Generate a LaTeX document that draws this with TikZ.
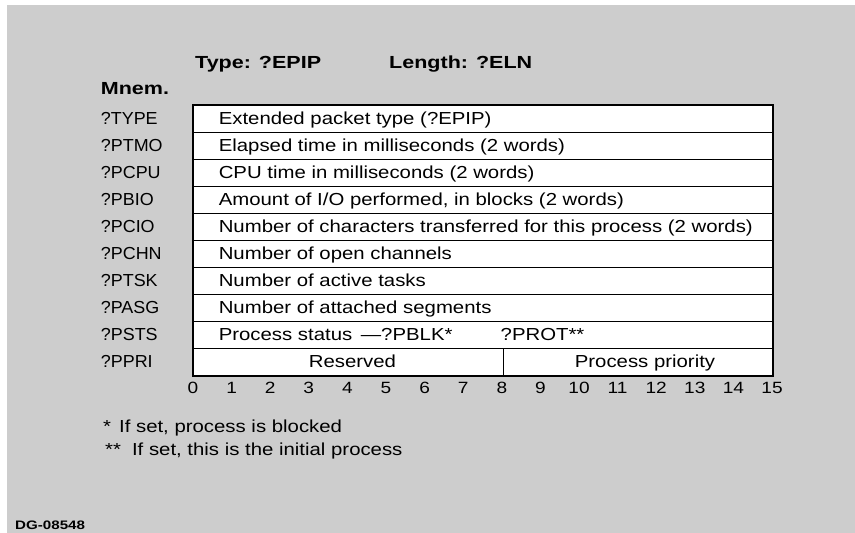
\documentclass[tikz,border=0pt]{standalone}
\usepackage{fontspec}
\setmainfont{Liberation Sans}
% widened Helvetica-like faces for the packet layout
\newfontfamily\cellfont[FakeStretch=1.17]{Liberation Sans}
\newfontfamily\mnemfont[FakeStretch=1.03]{Liberation Sans}
\newfontfamily\headfont[FakeStretch=1.23]{Liberation Sans}
\definecolor{paper}{RGB}{205,205,205}

\begin{document}
\begin{tikzpicture}[x=1pt,y=-1pt,
  cell/.style={draw=black, fill=white, line width=1.3pt, inner sep=0pt,
               minimum height=27pt, anchor=north west},
  wordcell/.style={cell, minimum width=579pt},
  celltext/.style={anchor=base west, inner sep=0pt,
                   font=\cellfont\fontsize{17.4}{20}\selectfont},
  centertext/.style={celltext, anchor=base},
  mnem/.style={anchor=base west, inner sep=0pt,
               font=\mnemfont\fontsize{17.4}{20}\selectfont},
  heading/.style={anchor=base west, inner sep=0pt,
                  font=\headfont\bfseries\fontsize{17.5}{20}\selectfont},
  bitnum/.style={anchor=base, inner sep=0pt,
                 font=\cellfont\fontsize{16.3}{18}\selectfont},
  note/.style={anchor=base west, inner sep=0pt,
               font=\cellfont\fontsize{17.4}{20}\selectfont},
  figid/.style={anchor=base west, inner sep=0pt,
                font=\headfont\bfseries\fontsize{12.3}{14}\selectfont}
]
\useasboundingbox (0,0) rectangle (855,533);
\fill[white] (0,0) rectangle (855,533);
\fill[paper] (7,5) rectangle (855,533);

% headings
\node[heading] (type) at (195,68) {Type: ?EPIP};
\node[heading] (len)  at (389,68) {Length: ?ELN};
\node[heading] (mnemhead) at (100.7,94.7) {Mnem.};

% one-word rows
\node[wordcell] (w0) at (193,104.5) {};
\node[wordcell] (w1) at (193,131.5) {};
\node[wordcell] (w2) at (193,158.5) {};
\node[wordcell] (w3) at (193,185.5) {};
\node[wordcell] (w4) at (193,212.5) {};
\node[wordcell] (w5) at (193,239.5) {};
\node[wordcell] (w6) at (193,266.5) {};
\node[wordcell] (w7) at (193,293.5) {};
\node[wordcell] (w8) at (193,320.5) {};
% last word split at bit 8
\node[cell, minimum width=309.7pt] (wres) at (193,347.5) {};
\node[cell, minimum width=269.3pt] (wpri) at (502.7,347.5) {};
% outer frame
\draw[line width=2pt] (w0.north west) rectangle (wpri.south east);

% field descriptions
\node[celltext] (d0) at (218.6,124.2) {Extended packet type (?EPIP)};
\node[celltext] (d1) at (218.6,151.2) {Elapsed time in milliseconds (2 words)};
\node[celltext] (d2) at (218.6,178.2) {CPU time in milliseconds (2 words)};
\node[celltext] (d3) at (218.6,205.2) {Amount of I/O performed, in blocks (2 words)};
\node[celltext] (d4) at (218.6,232.2) {Number of characters transferred for this process (2 words)};
\node[celltext] (d5) at (218.6,259.2) {Number of open channels};
\node[celltext] (d6) at (218.6,286.2) {Number of active tasks};
\node[celltext] (d7) at (218.6,313.2) {Number of attached segments};
\node[celltext] (d8) at (218.6,340.2) {Process status \,—?PBLK*};
\node[celltext] (d8b) at (500.5,340.2) {?PROT**};
\node[centertext] (d9a) at (352.5,367.2) {Reserved};
\node[centertext] (d9b) at (645,367.2) {Process priority};

% mnemonics
\node[mnem] (m0) at (100.7,124.2) {?TYPE};
\node[mnem] (m1) at (100.7,151.2) {?PTMO};
\node[mnem] (m2) at (100.7,178.2) {?PCPU};
\node[mnem] (m3) at (100.7,205.2) {?PBIO};
\node[mnem] (m4) at (100.7,232.2) {?PCIO};
\node[mnem] (m5) at (100.7,259.2) {?PCHN};
\node[mnem] (m6) at (100.7,286.2) {?PTSK};
\node[mnem] (m7) at (100.7,313.2) {?PASG};
\node[mnem] (m8) at (100.7,340.2) {?PSTS};
\node[mnem] (m9) at (100.7,367.2) {?PPRI};

% bit numbers
\foreach \k in {0,...,15}
  \node[bitnum] (bit\k) at (193+38.6*\k,393.5) {\k};

% footnotes
\node[note] (n1) at (103,432.7) {*\hspace{8pt}If set, process is blocked};
\node[note] (n2) at (105,455.7) {**\hspace{11pt}If set, this is the initial process};

% figure number
\node[figid] (fig) at (15,529.5) {DG-08548};
\end{tikzpicture}
\end{document}
